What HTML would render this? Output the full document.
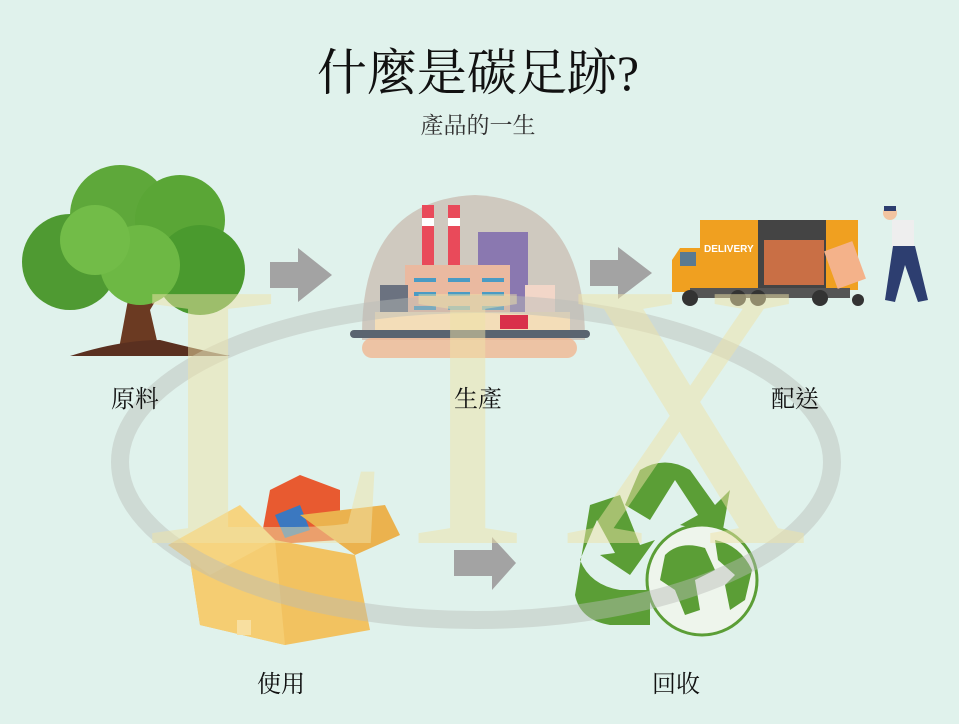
<!DOCTYPE html>
<html><head><meta charset="utf-8"><style>
html,body{margin:0;padding:0;background:#e0f2ec;}
svg{display:block}
</style></head><body>
<svg width="959" height="724" viewBox="0 0 959 724" xmlns="http://www.w3.org/2000/svg">
<rect width="959" height="724" fill="#e0f2ec"/>
<!-- title -->
<text x="478" y="90" text-anchor="middle" font-family="Liberation Serif, 'Noto Serif CJK SC', serif" font-size="50" fill="#111">什麼是碳足跡?</text>
<text x="478" y="133" text-anchor="middle" font-family="Liberation Serif, 'Noto Serif CJK TC', serif" font-size="23" fill="#333">產品的一生</text>
<!-- arrows -->
<g fill="#a3a3a3">
<polygon points="270,262 298,262 298,248 332,275 298,302 298,288 270,288"/>
<polygon points="590,260 618,260 618,247 652,273 618,299 618,286 590,286"/>
<polygon points="454,550 492,550 492,537 516,563 492,590 492,576 454,576"/>
</g>
<!-- tree -->
<g>
<path d="M118,354 L128,300 L110,280 L125,282 L140,300 L155,270 L165,285 L150,310 L160,354 Z" fill="#6b3a22"/>
<path d="M70,356 Q120,340 160,340 Q200,350 230,356 Z" fill="#5a3020"/>
<circle cx="70" cy="262" r="48" fill="#4f9a32"/>
<circle cx="120" cy="215" r="50" fill="#5ea83a"/>
<circle cx="180" cy="220" r="45" fill="#5aa636"/>
<circle cx="200" cy="270" r="45" fill="#4a9a2e"/>
<circle cx="140" cy="265" r="40" fill="#6db844"/>
<circle cx="95" cy="240" r="35" fill="#72bc48"/>
</g>
<!-- factory -->
<g>
<path d="M362,340 Q360,200 475,195 Q585,200 585,340 Z" fill="#c8b8ac" opacity="0.7"/>
<rect x="422" y="205" width="12" height="60" fill="#e94a5a"/>
<rect x="448" y="205" width="12" height="60" fill="#e94a5a"/>
<rect x="422" y="218" width="12" height="8" fill="#fff"/>
<rect x="448" y="218" width="12" height="8" fill="#fff"/>
<rect x="478" y="232" width="50" height="80" fill="#8a78b0"/>
<rect x="405" y="265" width="105" height="60" fill="#eab9a0"/>
<g fill="#4a9bc4">
<rect x="414" y="278" width="22" height="4"/><rect x="448" y="278" width="22" height="4"/><rect x="482" y="278" width="22" height="4"/>
<rect x="414" y="292" width="22" height="4"/><rect x="448" y="292" width="22" height="4"/><rect x="482" y="292" width="22" height="4"/>
<rect x="414" y="306" width="22" height="4"/><rect x="448" y="306" width="22" height="4"/><rect x="482" y="306" width="22" height="4"/>
</g>
<rect x="380" y="285" width="28" height="40" fill="#6b7280"/>
<rect x="525" y="285" width="30" height="45" fill="#f2d6c8"/>
<rect x="375" y="312" width="195" height="22" fill="#f3ddb8"/>
<rect x="500" y="315" width="28" height="14" fill="#d9304a"/>
<rect x="350" y="330" width="240" height="8" rx="4" fill="#5a6470"/>
<rect x="362" y="338" width="215" height="20" rx="10" fill="#f1b38c" opacity="0.75"/>
</g>
<!-- truck -->
<g>
<rect x="700" y="220" width="58" height="70" fill="#f0a020"/>
<text x="704" y="252" font-family="Liberation Sans, sans-serif" font-size="10" font-weight="bold" fill="#fff">DELIVERY</text>
<rect x="758" y="220" width="100" height="70" fill="#444"/>
<rect x="764" y="240" width="60" height="45" fill="#c96f45"/>
<rect x="826" y="220" width="32" height="70" fill="#f0a020"/>
<path d="M672,260 L680,248 L700,248 L700,292 L672,292 Z" fill="#f0a020"/>
<rect x="680" y="252" width="16" height="14" fill="#5b7a90"/>
<rect x="690" y="288" width="160" height="10" fill="#555"/>
<circle cx="690" cy="298" r="8" fill="#333"/><circle cx="738" cy="298" r="8" fill="#333"/><circle cx="758" cy="298" r="8" fill="#333"/><circle cx="820" cy="298" r="8" fill="#333"/>
<rect x="830" y="245" width="30" height="40" fill="#f4b28a" transform="rotate(-20 845 265)"/>
<circle cx="890" cy="213" r="7" fill="#f2c4a0"/>
<rect x="884" y="206" width="12" height="5" fill="#2d3e70"/>
<rect x="892" y="220" width="22" height="28" fill="#eee"/>
<path d="M893,246 L915,246 L928,300 L918,302 L905,265 L895,302 L885,300 Z" fill="#2d3e70"/>
<circle cx="858" cy="300" r="6" fill="#333"/>
</g>
<!-- box -->
<g>
<path d="M270,490 L300,475 L340,490 L340,540 L260,545 Z" fill="#e85a30"/>
<path d="M275,515 L300,505 L310,530 L285,538 Z" fill="#3b78c0"/>
<path d="M190,560 L275,540 L355,555 L370,630 L285,645 L200,625 Z" fill="#f2c260"/>
<path d="M275,540 L285,645 L200,625 L190,560 Z" fill="#f5cd72"/>
<path d="M168,545 L240,505 L275,540 L210,575 Z" fill="#f6d480"/>
<path d="M300,515 L385,505 L400,535 L355,555 Z" fill="#ebb24e"/>
<rect x="237" y="620" width="14" height="15" fill="#f8dfa0"/>
</g>
<!-- recycle -->
<g fill="#5b9e36">
<path d="M640,470 Q665,455 690,470 L715,505 L730,490 L722,535 L680,525 L698,515 L675,480 L650,520 L625,505 Z"/>
<path d="M590,505 L620,495 L640,545 L655,540 L630,575 L600,555 L615,553 L597,520 L580,560 Q590,585 620,590 L650,590 L650,625 L610,625 Q580,620 575,595 Z"/>
<circle cx="702" cy="580" r="55" fill="#eef5ec" stroke="#5b9e36" stroke-width="3"/>
<path d="M665,555 Q680,540 705,548 L715,570 L695,580 L700,610 L685,615 L675,590 L660,580 Z"/>
<path d="M715,540 Q740,545 752,570 L745,600 L730,610 L725,585 L735,575 L718,560 Z"/>
</g>
<!-- watermark overlay -->
<ellipse cx="476" cy="462" rx="356" ry="158" fill="none" stroke="#b8bdb8" stroke-width="18" opacity="0.45"/>
<g fill="#efe3a8" opacity="0.5" font-family="Liberation Serif, serif">
<text x="140" y="543" font-size="380" textLength="260" lengthAdjust="spacingAndGlyphs">L</text>
<text x="405" y="543" font-size="380" textLength="125" lengthAdjust="spacingAndGlyphs">I</text>
<text x="560" y="543" font-size="380" textLength="250" lengthAdjust="spacingAndGlyphs">X</text>
</g>
<!-- labels -->
<g font-family="Liberation Serif, 'Noto Serif CJK TC', serif" font-size="24" fill="#111" text-anchor="middle">
<text x="135" y="407">原料</text>
<text x="478" y="407">生產</text>
<text x="795" y="407">配送</text>
<text x="281" y="692">使用</text>
<text x="676" y="692">回收</text>
</g>
</svg>
</body></html>
